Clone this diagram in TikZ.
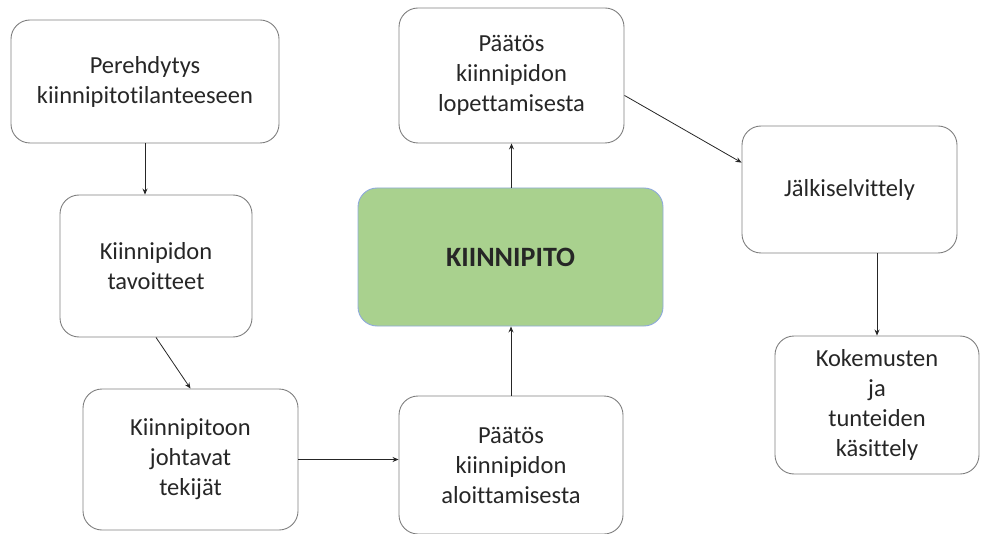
\documentclass[tikz,border=0pt]{standalone}
\usepackage{fontspec}
\setmainfont{Carlito}[Ligatures=NoCommon]
\usetikzlibrary{arrows.meta}
\definecolor{vihrea}{HTML}{A9D18E}
\definecolor{reuna}{HTML}{7F7F7F}
\definecolor{sininen}{HTML}{8FAADC}
\tikzset{
  laatikko/.style={draw=reuna, line width=0.9pt, rounded corners=19pt, align=center,
    text=black!85, font=\fontsize{24.5}{30}\selectfont},
  nuoli/.style={draw=black!85, line width=0.8pt, -{Stealth[length=6pt,width=5pt]}}
}
\begin{document}
\begin{tikzpicture}[x=1pt,y=-1pt]
        \useasboundingbox (0,0) rectangle (981,534);
        % vasen sarake
        \node[laatikko, minimum width=268pt, minimum height=123pt] (pereh) at (145,81.5) {Perehdytys\\kiinnipitotilanteeseen};
        \node[laatikko, minimum width=192pt, minimum height=142pt] (tavoit) at (156,266) {Kiinnipidon\\tavoitteet};
        \node[laatikko, minimum width=215pt, minimum height=141pt] (tekij) at (190.5,459.5) {Kiinnipitoon\\johtavat\\tekijät};
        % keskimmäinen sarake
        \node[laatikko, minimum width=224pt, minimum height=138pt] (aloit) at (511,465) {Päätös\\kiinnipidon\\aloittamisesta};
        \node[laatikko, fill=vihrea, draw=sininen, minimum width=305pt, minimum height=138pt, font=\fontsize{28}{30}\selectfont\bfseries] (kiinni) at (510.5,257) {KIINNIPITO};
        \node[laatikko, minimum width=225pt, minimum height=135pt] (lopet) at (511.5,75.5) {Päätös\\kiinnipidon\\lopettamisesta};
        % oikea sarake
        \node[laatikko, minimum width=215pt, minimum height=127pt] (jalki) at (849.5,189.5) {Jälkiselvittely};
        \node[laatikko, minimum width=204pt, minimum height=138pt] (kokem) at (877,405) {Kokemusten\\ja\\tunteiden\\käsittely};
        % nuolet
        \draw[nuoli] (pereh.south) -- (pereh.south |- tavoit.north);
        \draw[nuoli] (tavoit.south) -- (tekij.north);
        \draw[nuoli] (tekij.east) -- (tekij.east -| aloit.west);
        \draw[nuoli] (aloit.north) -- (aloit.north |- kiinni.south);
        \draw[nuoli] (kiinni.north) -- (kiinni.north -| lopet.south) -- (lopet.south);
        \draw[nuoli] (lopet.-10) -- (jalki.166);
        \draw[nuoli] (kokem.north |- jalki.south) -- (kokem.north);
\end{tikzpicture}
\end{document}
